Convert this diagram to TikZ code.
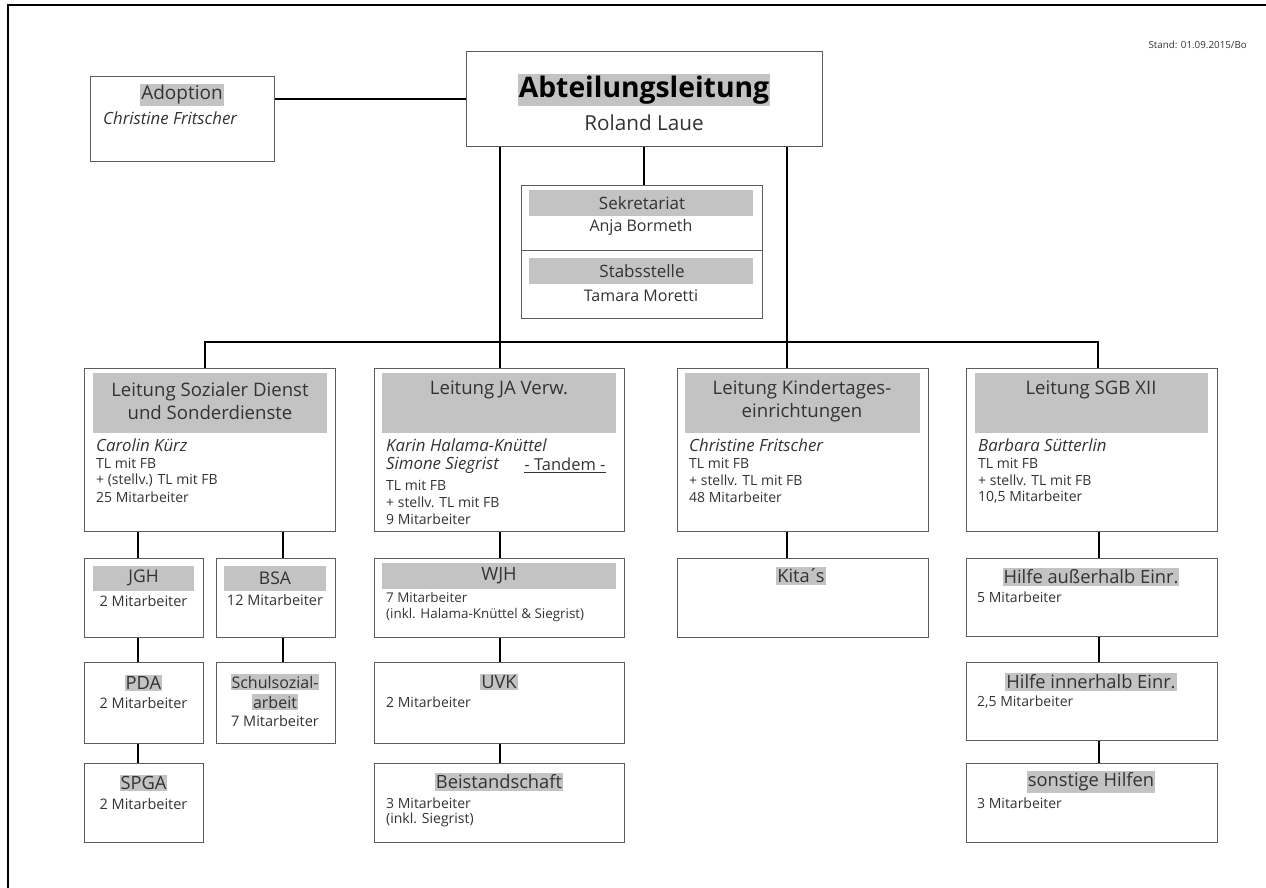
\documentclass[tikz,border=0pt]{standalone}
\usepackage{fontspec}
\setmainfont{Open Sans}
\usepackage{tikz}
\usetikzlibrary{positioning}
\definecolor{hlgray}{HTML}{C3C3C3}
\definecolor{boxline}{HTML}{5C5C5C}
\definecolor{txt}{HTML}{333333}

\tikzset{
  box/.style={draw=boxline, line width=1.3pt, inner sep=0pt, anchor=north west},
  band/.style={fill=hlgray, inner sep=0pt, anchor=north west},
  conn/.style={draw=black, line width=2.2pt},
  hl/.style={fill=hlgray, inner xsep=1pt, inner ysep=1.5pt, text=txt},
  lbl/.style={inner sep=0pt, text=txt},
  title/.style={lbl, font=\fontsize{18.6}{23}\selectfont, align=center},
  sub/.style={lbl, font=\fontsize{17.5}{20}\selectfont},
  unit/.style={hl, font=\fontsize{18.3}{20}\selectfont},
  who/.style={lbl, anchor=west, font=\fontsize{16.8}{17}\selectfont\itshape},
  small/.style={lbl, font=\fontsize{14}{17}\selectfont}
}

\begin{document}
\begin{tikzpicture}[x=1pt, y=-1pt]
\useasboundingbox (0,0) rectangle (1266,888);

% frame
\draw[line width=2pt] (8,888) -- (8,5) -- (1266,5);
\node[lbl, anchor=east, font=\fontsize{9.8}{12}\selectfont] (stand) at (1247,45) {Stand: 01.09.2015/Bo};

% top level
\node[box, minimum width=356, minimum height=95] (abt) at (466,51) {};
\node[hl, inner xsep=1pt, inner ysep=2pt, font=\fontsize{28.3}{30}\selectfont\bfseries, text=black] (abt-t) at (644,90) {Abteilungsleitung};
\node[lbl, font=\fontsize{20.7}{22}\selectfont] (abt-n) at (644,123) {Roland Laue};

\node[box, minimum width=184, minimum height=85] (adop) at (90,76) {};
\node[hl, font=\fontsize{19}{20}\selectfont] (adop-t) at (182,95) {Adoption};
\node[who] (adop-n) at (103,118) {Christine Fritscher};

\node[box, minimum width=241, minimum height=133] (sek) at (521,185) {};
\draw[draw=boxline, line width=1.3pt] (sek.west) ++(0,-1.5) coordinate (sek-l) -- (sek-l -| sek.east);
\node[band, minimum width=224, minimum height=26] (sek-b1) at (529,190) {};
\node[band, minimum width=224, minimum height=26] (sek-b2) at (529,258) {};
\node[sub, font=\fontsize{17}{18}\selectfont] (sek-t) at (642,203) {Sekretariat};
\node[lbl, font=\fontsize{16}{16}\selectfont] (sek-n) at (641,227) {Anja Bormeth};
\node[sub, font=\fontsize{17}{18}\selectfont] (stab-t) at (642,271) {Stabsstelle};
\node[lbl, font=\fontsize{16}{16}\selectfont] (stab-n) at (641,296) {Tamara Moretti};

% second level
\node[box, minimum width=251, minimum height=163] (soz) at (84,368) {};
\node[box, minimum width=250, minimum height=163] (ja) at (374,368) {};
\node[box, minimum width=251, minimum height=163] (kig) at (677,368) {};
\node[box, minimum width=251, minimum height=163] (sgb) at (966,368) {};
\foreach \x/\w in {93/234, 382/234, 685/235, 975/233}
  \node[band, minimum width=\w, minimum height=60] at (\x,373) {};

\node[title] (soz-t) at (210,401.5) {Leitung Sozialer Dienst\\und Sonderdienste};
\node[title] (ja-t) at (499,390) {Leitung JA Verw.};
\node[title] (kig-t) at (802,401.5) {Leitung Kindertages-\\einrichtungen};
\node[title] (sgb-t) at (1091,390) {Leitung SGB XII};

\node[who] (soz-n) at (96,445) {Carolin Kürz};
\node[who] (ja-n1) at (386,445) {Karin Halama-Knüttel};
\node[who] (ja-n2) at (386,465) {Simone Siegrist};
\node[lbl, font=\fontsize{16.5}{17}\selectfont] (tandem) at (565,465) {\underline{- Tandem -}};
\node[who] (kig-n) at (689,445) {Christine Fritscher};
\node[who] (sgb-n) at (978,445) {Barbara Sütterlin};

\foreach \t [count=\i] in {TL mit FB, + (stellv.) TL mit FB, 25 Mitarbeiter}
  \node[small, anchor=west] (soz-\i) at (96,446+17*\i) {\t};
\foreach \t [count=\i] in {TL mit FB, + stellv. TL mit FB, 9 Mitarbeiter}
  \node[small, anchor=west] (ja-\i) at (386,468+17*\i) {\t};
\foreach \t [count=\i] in {TL mit FB, + stellv. TL mit FB, 48 Mitarbeiter}
  \node[small, anchor=west] (kig-\i) at (689,446+17*\i) {\t};
\foreach \t [count=\i] in {TL mit FB, + stellv. TL mit FB, {10,5 Mitarbeiter}}
  \node[small, anchor=west] (sgb-\i) at (978,446+17*\i) {\t};

% Sozialer Dienst column
\node[box, minimum width=119, minimum height=79] (jgh) at (84,558) {};
\node[band, minimum width=101, minimum height=25] at (93,566) {};
\node[sub] (jgh-t) at (143.5,578) {JGH};
\node[small, font=\fontsize{14.5}{16}\selectfont] (jgh-1) at (143.5,601) {2 Mitarbeiter};

\node[box, minimum width=119, minimum height=79] (bsa) at (216,558) {};
\node[band, minimum width=102, minimum height=25] at (224,566) {};
\node[sub] (bsa-t) at (275,578) {BSA};
\node[small, font=\fontsize{14.5}{16}\selectfont] (bsa-1) at (275,600) {12 Mitarbeiter};

\node[box, minimum width=119, minimum height=81] (pda) at (84,662) {};
\node[unit] (pda-t) at (143.5,683) {PDA};
\node[small, font=\fontsize{14.5}{16}\selectfont] (pda-1) at (143.5,703) {2 Mitarbeiter};

\node[box, minimum width=119, minimum height=81] (schul) at (216,662) {};
\node[hl, font=\fontsize{16}{17}\selectfont] (schul-t1) at (275,682) {Schulsozial-};
\node[hl, font=\fontsize{16}{17}\selectfont] (schul-t2) at (275,702) {arbeit};
\node[small, font=\fontsize{14.5}{16}\selectfont] (schul-1) at (275,721) {7 Mitarbeiter};

\node[box, minimum width=119, minimum height=79] (spga) at (84,763) {};
\node[unit] (spga-t) at (143.5,783) {SPGA};
\node[small, font=\fontsize{14.5}{16}\selectfont] (spga-1) at (143.5,804) {2 Mitarbeiter};

% JA Verw. column
\node[box, minimum width=250, minimum height=79] (wjh) at (374,558) {};
\node[band, minimum width=234, minimum height=26] at (382,563) {};
\node[sub, font=\fontsize{18.3}{20}\selectfont] (wjh-t) at (499,576) {WJH};
\node[small, anchor=west, font=\fontsize{13.4}{16}\selectfont] (wjh-1) at (386,597) {7 Mitarbeiter};
\node[small, anchor=west, font=\fontsize{13.4}{16}\selectfont] (wjh-2) at (386,615) {(inkl. Halama-Knüttel \& Siegrist)};

\node[box, minimum width=250, minimum height=81] (uvk) at (374,662) {};
\node[unit] (uvk-t) at (499,682) {UVK};
\node[small, anchor=west] (uvk-1) at (386,702) {2 Mitarbeiter};

\node[box, minimum width=250, minimum height=79] (beist) at (374,763) {};
\node[unit] (beist-t) at (499,782) {Beistandschaft};
\node[small, anchor=west] (beist-1) at (386,803) {3 Mitarbeiter};
\node[small, anchor=west] (beist-2) at (386,820) {(inkl. Siegrist)};

% Kita column
\node[box, minimum width=251, minimum height=79] (kita) at (677,558) {};
\node[unit] (kita-t) at (801,576) {Kita\kern-2pt´\kern-2.5pt s};

% SGB XII column
\node[box, minimum width=251, minimum height=78] (ausser) at (966,558) {};
\node[unit] (ausser-t) at (1091,577) {Hilfe außerhalb Einr.};
\node[small, anchor=west] (ausser-1) at (977,597) {5 Mitarbeiter};

\node[box, minimum width=251, minimum height=78] (inner) at (966,662) {};
\node[unit] (inner-t) at (1091,682) {Hilfe innerhalb Einr.};
\node[small, anchor=west] (inner-1) at (977,702) {2,5 Mitarbeiter};

\node[box, minimum width=251, minimum height=79] (sonst) at (966,763) {};
\node[unit] (sonst-t) at (1091,782) {sonstige Hilfen};
\node[small, anchor=west] (sonst-1) at (977,803) {3 Mitarbeiter};

% connectors
\coordinate (bus) at (640,342);
\draw[conn] (adop.east |- abt.west) -- (abt.west);
\draw[conn] ([xshift=-1]abt.south) -- ([xshift=-1]abt.south |- sek.north);
\draw[conn] (abt.south -| ja.north) -- (ja.north);
\draw[conn] ([xshift=-16]kig.north) -- ([xshift=-16]kig.north |- abt.south);
\draw[conn] ([xshift=-5.5]soz.north) |- (bus) -| ([xshift=5.5]sgb.north);

\draw[conn] ([xshift=-6]jgh.north) -- ([xshift=-6]jgh.north |- soz.south);
\draw[conn] ([xshift=6.5]bsa.north) -- ([xshift=6.5]bsa.north |- soz.south);
\draw[conn] ([xshift=-6]pda.north) -- ([xshift=-6]jgh.south);
\draw[conn] ([xshift=6.5]schul.north) -- ([xshift=6.5]bsa.south);
\draw[conn] ([xshift=-6]spga.north) -- ([xshift=-6]pda.south);

\draw[conn] (ja.south) -- (wjh.north);
\draw[conn] (wjh.south) -- (uvk.north);
\draw[conn] (uvk.south) -- (beist.north);

\draw[conn] ([xshift=-16]kig.south) -- ([xshift=-16]kita.north);

\draw[conn] ([xshift=6.5]sgb.south) -- ([xshift=6.5]ausser.north);
\draw[conn] ([xshift=6.5]ausser.south) -- ([xshift=6.5]inner.north);
\draw[conn] ([xshift=6.5]inner.south) -- ([xshift=6.5]sonst.north);
\end{tikzpicture}
\end{document}
